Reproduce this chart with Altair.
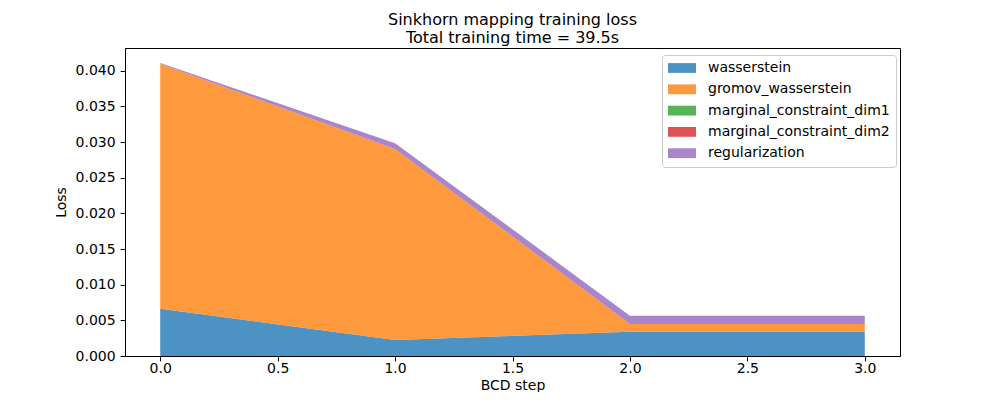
import altair as alt
import pandas as pd

steps = [0, 1, 2, 3]
series_names = ["wasserstein", "gromov_wasserstein", "marginal_constraint_dim1",
                "marginal_constraint_dim2", "regularization"]
wasserstein = [0.00664, 0.00225, 0.00341, 0.00341]
gromov_wasserstein = [0.03436, 0.0268, 0.00108, 0.00108]
marginal_constraint_dim1 = [0.0, 0.0, 0.0, 0.0]
marginal_constraint_dim2 = [0.0, 0.0, 0.0, 0.0]
regularization = [0.00008, 0.0008, 0.00117, 0.00117]
colors = ["#1f77b4", "#ff7f0e", "#2ca02c", "#d62728", "#9467bd"]
x_ticks = [0.0, 0.5, 1.0, 1.5, 2.0, 2.5, 3.0]
y_ticks = [0.0, 0.005, 0.010, 0.015, 0.020, 0.025, 0.030, 0.035, 0.040]

values = [wasserstein, gromov_wasserstein, marginal_constraint_dim1,
          marginal_constraint_dim2, regularization]
rows = []
for k, (name, vals) in enumerate(zip(series_names, values)):
    for s, v in zip(steps, vals):
        rows.append({"step": s, "loss": v, "series": name, "order": k})
df = pd.DataFrame(rows)

FONT = "DejaVu Sans"

chart = alt.Chart(df).mark_area(opacity=0.8, line=False, strokeWidth=0).encode(
    x=alt.X("step:Q",
            scale=alt.Scale(domain=[-0.15, 3.15], nice=False, zero=False),
            axis=alt.Axis(values=x_ticks, format=".1f", title="BCD step",
                          titleY=33, titleBaseline="alphabetic", labelPadding=1)),
    y=alt.Y("loss:Q", stack="zero",
            scale=alt.Scale(domain=[0, 0.04320], nice=False),
            axis=alt.Axis(values=y_ticks, format=".3f", title="Loss",
                          titleX=-60, titleY=154, titleAngle=270,
                          titleBaseline="alphabetic", labelPadding=4.9)),
    color=alt.Color("series:N",
                    scale=alt.Scale(domain=series_names, range=colors),
                    legend=alt.Legend(
                        title=None, orient="none", legendX=537, legendY=7,
                        symbolType="M-1,-0.7L3,-0.7L3,0.7L-1,0.7Z",
                        symbolSize=196, symbolOpacity=0.8, symbolStrokeWidth=0,
                        labelOffset=26, labelFontSize=14, labelFont=FONT,
                        labelLimit=400,
                        labelColor="black", rowPadding=7.3, padding=6,
                        strokeColor="#cccccc", fillColor="white", cornerRadius=3)),
    order=alt.Order("order:Q"),
).properties(
    width=775, height=308,
    autosize=alt.AutoSizeParams(type="none"),
    padding={"left": 117, "top": 40, "right": 92, "bottom": 36},
    title=alt.Title(["Sinkhorn mapping training loss", "Total training time = 39.5s"],
                    fontSize=16, font=FONT, fontWeight="normal", color="black",
                    anchor="middle", offset=2.5, lineHeight=18),
).configure_view(
    stroke="black", strokeWidth=1
).configure_axis(
    grid=False, domainColor="black", tickColor="black", tickSize=4.9,
    labelFont=FONT, labelFontSize=14, labelColor="black",
    titleFont=FONT, titleFontSize=14, titleColor="black", titleFontWeight="normal",
)

chart.save("out.html", embed_options={"renderer": "svg", "actions": False})
